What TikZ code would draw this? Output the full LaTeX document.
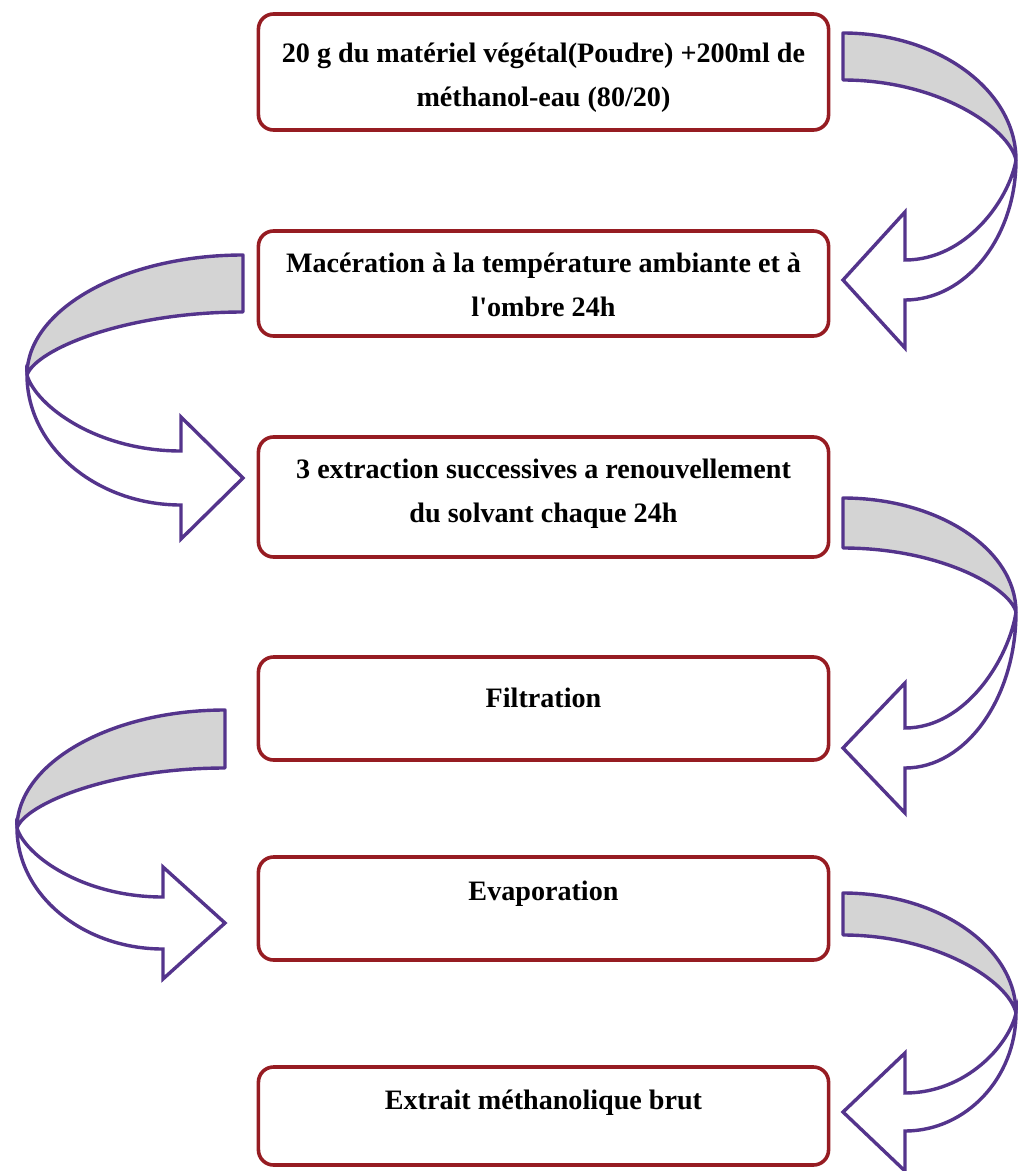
\documentclass[tikz,border=0pt]{standalone}
\usepackage{fontspec}
\setmainfont{Liberation Serif}
\usepackage{tikz}
\definecolor{boxred}{RGB}{150,28,34}
\definecolor{turnpurple}{RGB}{84,52,140}
\definecolor{turngray}{RGB}{212,212,212}
\tikzset{
  stepbox/.style={draw=boxred, line width=0.09cm, rounded corners=0.38cm,
    minimum width=14.25cm, fill=white},
  steptext/.style={font=\bfseries\fontsize{20}{31}\selectfont, align=center},
  bandgray/.style={draw=turnpurple, fill=turngray, line width=0.085cm, line join=round},
  bandwhite/.style={draw=turnpurple, fill=white, line width=0.085cm, line join=miter}
}
% curved block arrow: tail x, tail top, tail bottom, far x, far y,
% head y, shaft half width, head half height, side (1 right, -1 left)
\newcommand{\bigturn}[9]{
  \pgfmathsetmacro\hx{#1+#9*62}
  \filldraw[bandwhite] (#4,#5) .. controls (#4,{#5+0.55*(#6+#7-#5)}) and ({\hx+0.55*(#4-\hx)},{#6+#7}) .. (\hx,{#6+#7})
    -- (\hx,{#6+#8}) -- (#1,#6) -- (\hx,{#6-#8}) -- (\hx,{#6-#7})
    .. controls ({\hx+0.55*(#4-\hx)},{#6-#7}) and ({#4+0.04*(#1-#4)},{#5+0.4*(#6-#7-#5)}) .. (#4,#5) -- cycle;
  \filldraw[bandgray] (#1,#2) .. controls ({#1+0.55*(#4-#1)},#2) and (#4,{#5-0.55*(#5-#2)}) .. (#4,#5)
    .. controls ({#4+0.04*(#1-#4)},{#5-0.4*(#5-#3)}) and ({#1+0.55*(#4-#1)},#3) .. (#1,#3) -- cycle;
}

\begin{document}
\begin{tikzpicture}[x=0.025cm, y=-0.025cm]
\useasboundingbox (0,0) rectangle (1019,1171);

% the six steps
\node[stepbox, minimum height=2.9cm] (b1) at (543.5,72) {};
\node[stepbox, minimum height=2.625cm] (b2) at (543.5,283.5) {};
\node[stepbox, minimum height=3cm] (b3) at (543.5,497) {};
\node[stepbox, minimum height=2.575cm] (b4) at (543.5,708.5) {};
\node[stepbox, minimum height=2.575cm] (b5) at (543.5,908.5) {};
\node[stepbox, minimum height=2.45cm] (b6) at (543.5,1116) {};

\node[steptext] (t1) at (543.5,78) {20 g du matériel végétal(Poudre) +200ml de\\méthanol-eau (80/20)};
\node[steptext] (t2) at (543.5,285) {Macération à la température ambiante et à\\l\textquotesingle ombre 24h};
\node[steptext] (t3) at (543.5,494) {3 extraction successives a renouvellement\\du solvant chaque 24h};
\node[steptext] (t4) at (543.5,698) {Filtration};
\node[steptext] (t5) at (543.5,894) {Evaporation};
\node[steptext] (t6) at (543.5,1103) {Extrait méthanolique brut};

% turning arrows between the steps
\bigturn{843}{33}{80}{1016}{160}{280}{20}{68}{1}
\bigturn{243}{255}{312}{27}{375}{478}{27}{61}{-1}
\bigturn{843}{498}{548}{1016}{612}{748}{20}{65}{1}
\bigturn{225}{710}{768}{17}{828}{923}{26}{56}{-1}
\bigturn{843}{893}{935}{1016}{1013}{1112}{19}{59}{1}
\end{tikzpicture}
\end{document}
